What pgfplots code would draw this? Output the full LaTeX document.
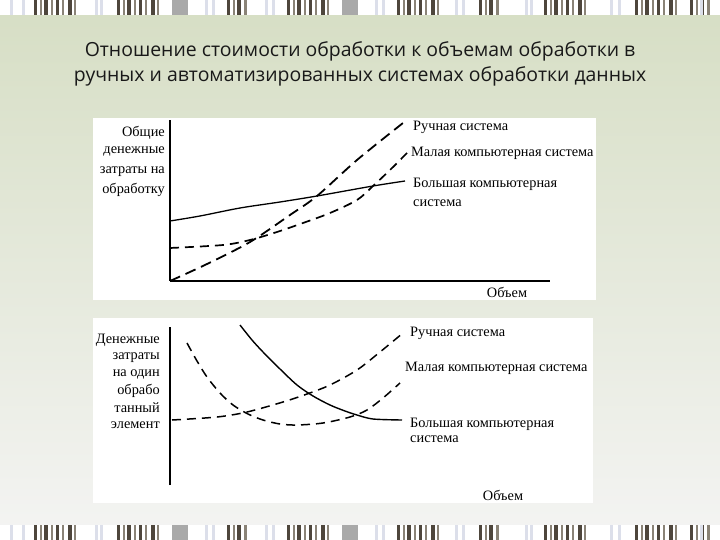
\documentclass[border=0pt]{standalone}
\usepackage{pgfplots}
\pgfplotsset{compat=1.18}
\usepackage{fontspec}
\setmainfont{Liberation Serif}
\newfontfamily\titlefont{Open Sans}
\definecolor{bgtop}{HTML}{D6DEC4}
\definecolor{bgmid}{HTML}{EBEDE4}
\definecolor{bgbot}{HTML}{F4F4F3}
\definecolor{bardark}{HTML}{4E463C}
\definecolor{barmid}{HTML}{8A8377}
\definecolor{bargray}{HTML}{A9A9A9}
\definecolor{barlight}{HTML}{DCDFEA}
\begin{document}
\begin{tikzpicture}[x=1bp,y=1bp]
% background
\shade[top color=bgtop, middle color=bgmid, bottom color=bgbot] (0,0) rectangle (720,-540);
% stripes
\foreach \yy in {0,-525}{
  \fill[white] (0,\yy) rectangle (720,\yy-15);
  \foreach \g in {34,117,287,397,544,635}{
    \foreach \o/\w/\c in {0/3/bardark,6/2/barmid,10/4/bardark,17/2/barmid,22/3/bardark,28/2/barmid,34/4/bardark,40/2/barmid}{
      \fill[\c] (\g+\o,\yy) rectangle (\g+\o+\w,\yy-15);
    }
  }
  \foreach \g in {227,479,690}{
    \foreach \o/\w/\c in {0/3/bardark,6/2/barmid,10/4/bardark,17/3/barmid}{
      \fill[\c] (\g+\o,\yy) rectangle (\g+\o+\w,\yy-15);
    }
  }
  \foreach \g in {172,342}{
    \fill[bargray] (\g,\yy) rectangle (\g+16,\yy-15);
  }
  \foreach \g in {10,22,95,100,205,212,265,272,375,382,455,462,525,530,610,618,700}{
    \fill[barlight] (\g,\yy) rectangle (\g+3,\yy-15);
  }
}
% title
\node[font=\titlefont\fontsize{19.5}{25}\selectfont, align=center, text=black!90] at (360,-64)
  {Отношение стоимости обработки к объемам обработки в\\ручных и автоматизированных системах обработки данных};
% panels
\fill[white] (93,-118) rectangle (596,-300);
\fill[white] (93,-318) rectangle (593,-503);

% ---------- top chart ----------
\begin{axis}[
  at={(170,-281)}, anchor=south west,
  scale only axis, width=380bp, height=161bp,
  xmin=170, xmax=550, ymin=-281, ymax=-120,
  axis x line*=bottom, axis y line*=left,
  axis line style={black, line width=1.1bp},
  ticks=none, clip=false,
]
% Большая компьютерная система
\addplot[black, line width=1.3bp, smooth] coordinates {
 (170,-221) (200,-216) (240,-208) (280,-202) (317,-196) (373,-186) (405,-181)};
% Ручная система
\addplot[black, line width=1.8bp, dash pattern=on 11bp off 6bp, smooth] coordinates {
 (170,-281) (207,-264) (250,-242) (290,-215) (317,-196) (357,-160) (403,-123)};
% Малая компьютерная система
\addplot[black, line width=1.7bp, dash pattern=on 9bp off 6bp, smooth] coordinates {
 (170,-248) (223,-245) (250,-240) (277,-232) (303,-223) (330,-213) (357,-200) (373,-186) (390,-170) (407,-153)};
\end{axis}
\begin{scope}[font=\fontsize{14.4}{16}\selectfont]
\node[anchor=west, inner sep=0pt] at (413,-127) {Ручная система};
\node[anchor=west, inner sep=0pt] at (411,-153) {Малая компьютерная система};
\node[anchor=west, inner sep=0pt] at (413,-184) {Большая компьютерная};
\node[anchor=west, inner sep=0pt] at (413,-203) {система};
\node[anchor=east, inner sep=0pt] at (165,-133) {Общие};
\node[anchor=east, inner sep=0pt] at (165,-152) {денежные};
\node[anchor=east, inner sep=0pt] at (165,-172) {затраты на};
\node[anchor=east, inner sep=0pt] at (165,-190) {обработку};
\node[inner sep=0pt] at (507,-292) {Объем};
\end{scope}

% ---------- bottom chart ----------
\begin{axis}[
  at={(170,-485)}, anchor=south west,
  scale only axis, width=380bp, height=158bp,
  xmin=170, xmax=550, ymin=-485, ymax=-327,
  axis x line=none, axis y line*=left,
  axis line style={black, line width=1.1bp},
  ticks=none, clip=false,
]
% Большая компьютерная система
\addplot[black, line width=1.4bp, smooth] coordinates {
 (240,-325) (252,-340) (263,-352) (280,-369) (297,-385) (313,-396) (330,-405) (345,-411) (357,-415) (373,-419) (402,-420)};
% Ручная система
\addplot[black, line width=1.5bp, dash pattern=on 9bp off 6bp, smooth] coordinates {
 (172,-420) (217,-417) (247,-412) (283,-402) (307,-394) (330,-385) (357,-370) (380,-352) (403,-333)};
% Малая компьютерная система
\addplot[black, line width=1.5bp, dash pattern=on 9bp off 6bp, smooth] coordinates {
 (187,-343) (197,-361) (207,-377) (220,-393) (233,-405) (248,-414) (263,-420) (280,-424) (297,-425) (323,-423) (350,-417) (367,-410) (383,-398) (400,-383)};
\end{axis}
\begin{scope}[font=\fontsize{14.4}{16}\selectfont]
\node[anchor=west, inner sep=0pt] at (410,-333) {Ручная система};
\node[anchor=west, inner sep=0pt] at (405,-368) {Малая компьютерная система};
\node[anchor=west, inner sep=0pt] at (410,-424) {Большая компьютерная};
\node[anchor=west, inner sep=0pt] at (410,-439) {система};
\node[anchor=east, inner sep=0pt] at (160,-340) {Денежные};
\node[anchor=east, inner sep=0pt] at (160,-358) {затраты};
\node[anchor=east, inner sep=0pt] at (160,-375) {на один};
\node[anchor=east, inner sep=0pt] at (160,-391) {обрабо};
\node[anchor=east, inner sep=0pt] at (160,-408) {танный};
\node[anchor=east, inner sep=0pt] at (160,-425) {элемент};
\node[inner sep=0pt] at (503,-495) {Объем};
\end{scope}
\end{tikzpicture}
\end{document}
